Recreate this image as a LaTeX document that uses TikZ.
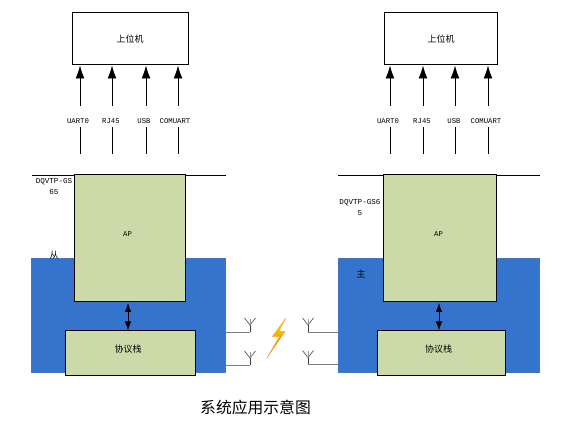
\documentclass[tikz,border=0pt]{standalone}
\usepackage{fontspec}
\setmainfont{Liberation Mono}
\newfontfamily\cjk{Noto Sans CJK SC}
\usepackage{tikz}
\usetikzlibrary{arrows.meta}
\definecolor{apgreen}{HTML}{CCDAA9}
\definecolor{boardblue}{HTML}{3574CC}
\definecolor{antgray}{HTML}{7F7F7F}

\begin{document}
\begin{tikzpicture}[x=1pt, y=-1pt,
    hostbox/.style={draw, line width=1pt, fill=white, inner sep=0pt, font=\cjk\fontsize{9}{10}\selectfont},
    greenbox/.style={draw, line width=1pt, fill=apgreen, inner sep=0pt},
    boardbox/.style={draw=boardblue!80!gray, fill=boardblue, inner sep=0pt},
    boxtext/.style={inner sep=0pt, font=\fontsize{7.3}{9}\selectfont},
    cjktext/.style={inner sep=0pt, font=\cjk\fontsize{9}{10}\selectfont},
    portlabel/.style={font=\fontsize{7.3}{9}\selectfont, inner sep=0pt},
    sidelabel/.style={font=\fontsize{7.6}{11}\selectfont, align=center, inner sep=0pt},
    uplink/.style={-{Latex[length=13pt,width=9pt]}, line width=0.9pt},
    portline/.style={line width=0.9pt},
    stacklink/.style={{Latex[length=9pt,width=6.5pt]}-{Latex[length=9pt,width=6.5pt]}, line width=0.8pt},
    antline/.style={draw=antgray, line width=0.7pt},
    antenna/.pic={
        \draw [line width=0.7pt, black!75] (0,0) -- (0,-7);
        \draw [line width=0.7pt, black!65] (-5.5,-14) -- (0,-7) -- (5.5,-14);
        \draw [line width=0.4pt, black!40] (0,-7) -- (0,-13);
    }]
    \useasboundingbox (0,0) rectangle (582,433);

    % left side
    \node [hostbox, minimum width=116pt, minimum height=52pt] (hostL) at (130,39) {上位机};
    \foreach \name/\x/\lx/\txt in {uartL/80/78/UART0, rjL/112/111/RJ45, usbL/146/144/USB, comL/178/175/COMUART} {
        \coordinate (\name Top) at (\x,106);
        \coordinate (\name Bot) at (\x,154);
        \coordinate (\name Mid) at (\x,127);
        \draw [uplink] (\name Top) -- (\name Top |- hostL.south);
        \draw [portline] (\name Mid) -- (\name Bot);
        \node [portlabel] (\name) at (\lx,121) {\txt};
    }
    \node [boardbox, minimum width=194pt, minimum height=114pt] (boardL) at (128,315) {};
    \coordinate (railLa) at (32,175);
    \coordinate (railLb) at (226,175);
    \draw [line width=0.9pt] (railLa) -- (railLb);
    \node [greenbox, minimum width=111pt, minimum height=127pt] (apL) at (129.5,238.5) {};
    \node [greenbox, minimum width=130pt, minimum height=44pt] (stackL) at (130,353) {};
    \node [boxtext] (apTextL) at (127.5,234) {AP};
    \node [cjktext] (stackTextL) at (128,349.5) {协议栈};
    \coordinate (linkLa) at (128,303);
    \draw [stacklink] (linkLa) -- (linkLa |- stackL.north);
    \node [sidelabel] (nameL) at (54,186) {DQVTP-GS\\65};
    \node [cjktext] (roleL) at (54,255) {从};

    % right side
    \node [hostbox, minimum width=113.5pt, minimum height=52pt] (hostR) at (441,39) {上位机};
    \foreach \name/\x/\lx/\txt in {uartR/390/388/UART0, rjR/423/422/RJ45, usbR/455/454/USB, comR/488/486/COMUART} {
        \coordinate (\name Top) at (\x,106);
        \coordinate (\name Bot) at (\x,154);
        \coordinate (\name Mid) at (\x,127);
        \draw [uplink] (\name Top) -- (\name Top |- hostR.south);
        \draw [portline] (\name Mid) -- (\name Bot);
        \node [portlabel] (\name) at (\lx,121) {\txt};
    }
    \node [boardbox, minimum width=201pt, minimum height=114pt] (boardR) at (438.5,315) {};
    \coordinate (railRa) at (338,175);
    \coordinate (railRb) at (540,175);
    \draw [line width=0.9pt] (railRa) -- (railRb);
    \node [greenbox, minimum width=113pt, minimum height=127pt] (apR) at (439.5,238.5) {};
    \node [greenbox, minimum width=128pt, minimum height=44pt] (stackR) at (441,353) {};
    \node [boxtext] (apTextR) at (438.5,234) {AP};
    \node [cjktext] (stackTextR) at (438.5,349.5) {协议栈};
    \coordinate (linkRa) at (439,303);
    \draw [stacklink] (linkRa) -- (linkRa |- stackR.north);
    \node [sidelabel] (nameR) at (360,207) {DQVTP-GS6\\5};
    \node [cjktext] (roleR) at (361,274) {主};

    % antennas
    \coordinate (antLa) at (250,332);
    \coordinate (antLb) at (250,365);
    \coordinate (antRa) at (308,332);
    \coordinate (antRb) at (308,364.5);
    \draw [antline] (boardL.east |- antLa) -- (antLa);
    \draw [antline] (boardL.east |- antLb) -- (antLb);
    \draw [antline] (antRa) -- (boardR.west |- antRa);
    \draw [antline] (antRb) -- (boardR.west |- antRb);
    \pic at (antLa) {antenna};
    \pic at (antLb) {antenna};
    \pic at (antRa) {antenna};
    \pic at (antRb) {antenna};

    % bolt
    \shade [top color=yellow!80!orange, bottom color=orange!85!black, draw=orange!75, line width=0.3pt]
        (286,317.7) -- (272.3,336.5) -- (279.3,336.7) -- (266.7,358.3) -- (285,331.7) -- (279.3,331) -- cycle;

    \node [font=\cjk\fontsize{15.8}{18}\selectfont, inner sep=0pt] (caption) at (255.5,407) {系统应用示意图};
\end{tikzpicture}
\end{document}
